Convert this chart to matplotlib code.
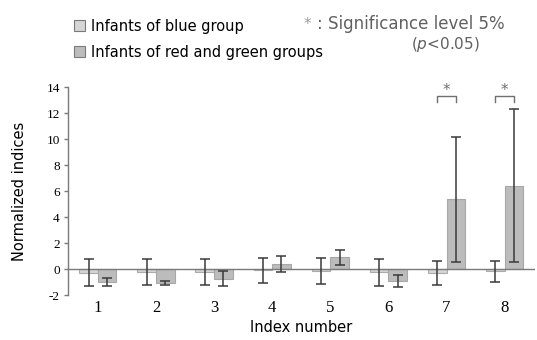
import matplotlib
matplotlib.use("Agg")
import matplotlib.pyplot as plt
import numpy as np
from matplotlib.patches import Patch

categories = [1, 2, 3, 4, 5, 6, 7, 8]
blue_mean = [-0.25, -0.2, -0.2, -0.08, -0.13, -0.2, -0.25, -0.15]
blue_err = [1.05, 1.0, 1.0, 0.95, 1.0, 1.04, 0.93, 0.83]
red_mean = [-0.95, -1.05, -0.7, 0.43, 0.92, -0.87, 5.4, 6.45]
red_err = [0.32, 0.15, 0.6, 0.6, 0.6, 0.45, 4.8, 5.85]
significant = [7, 8]
yticks = [-2, 0, 2, 4, 6, 8, 10, 12, 14]
series_labels = ["Infants of blue group", "Infants of red and green groups"]

fig = plt.figure(figsize=(5.37, 3.40), dpi=100)
ax = fig.add_axes([0.127, 0.131, 0.869, 0.612])

x = np.array(categories, dtype=float)
w = 0.32
c_blue = "#d6d6d6"
c_red = "#bcbcbc"
ax.bar(x - w / 2, blue_mean, w, color=c_blue, edgecolor="#ababab", linewidth=0.8, zorder=2)
ax.bar(x + w / 2, red_mean, w, color=c_red, edgecolor="#a8a8a8", linewidth=0.8, zorder=2)
ax.errorbar(x - w / 2, blue_mean, yerr=blue_err, fmt="none", ecolor="#3a3a3a",
            elinewidth=1.1, capsize=3.6, capthick=1.1, zorder=4)
ax.errorbar(x + w / 2, red_mean, yerr=red_err, fmt="none", ecolor="#3a3a3a",
            elinewidth=1.1, capsize=3.6, capthick=1.1, zorder=4)
ax.axhline(0, color="#7a7a7a", lw=1.0, zorder=3)

# significance brackets
for c in significant:
    yb = 13.3
    ax.plot([c - w / 2, c - w / 2, c + w / 2, c + w / 2], [12.9, yb, yb, 12.9],
            color="#707070", lw=1.0, clip_on=False)
    ax.text(c, yb - 0.15, "*", ha="center", va="bottom", fontsize=11, color="#707070",
            family="DejaVu Sans")

ax.set_xlim(0.49, 8.52)
ax.set_ylim(-2, 14)
ax.set_yticks(yticks)
ax.set_yticklabels([str(t) for t in yticks], family="Liberation Serif", fontsize=9.5)
ax.set_xticks(categories)
ax.set_xticklabels([str(c) for c in categories], family="Liberation Serif", fontsize=12)
ax.tick_params(axis="x", length=0, pad=3)
ax.tick_params(axis="y", length=3, width=1, color="#7a7a7a", pad=3, direction="out")
for s in ["top", "right", "bottom"]:
    ax.spines[s].set_visible(False)
ax.spines["left"].set_color("#7a7a7a")
ax.spines["left"].set_linewidth(1.0)

ax.set_ylabel("Normalized indices", fontsize=10.5, family="DejaVu Sans", labelpad=14)
ax.set_xlabel("Index number", fontsize=10.5, family="DejaVu Sans", labelpad=3)

handles = [Patch(facecolor=c_blue, edgecolor="#7a7a7a", lw=0.8),
           Patch(facecolor=c_red, edgecolor="#7a7a7a", lw=0.8)]
fig.legend(handles, series_labels, loc="upper left", bbox_to_anchor=(0.137, 0.945),
           frameon=False, fontsize=10.5, handlelength=0.8, handleheight=0.8,
           handletextpad=0.4, labelspacing=0.75, borderaxespad=0, borderpad=0)

fig.text(0.566, 0.928, "*", ha="left", va="center",
         fontsize=11, color="#9a9a9a", family="DejaVu Sans")
fig.text(0.590, 0.928, ": Significance level 5%", ha="left", va="center",
         fontsize=12, color="#606060", family="DejaVu Sans")
fig.text(0.830, 0.868, r"($\it{p}$<0.05)", ha="center", va="center",
         fontsize=11, color="#606060", family="DejaVu Sans")

fig.savefig("out.png", dpi=100)
